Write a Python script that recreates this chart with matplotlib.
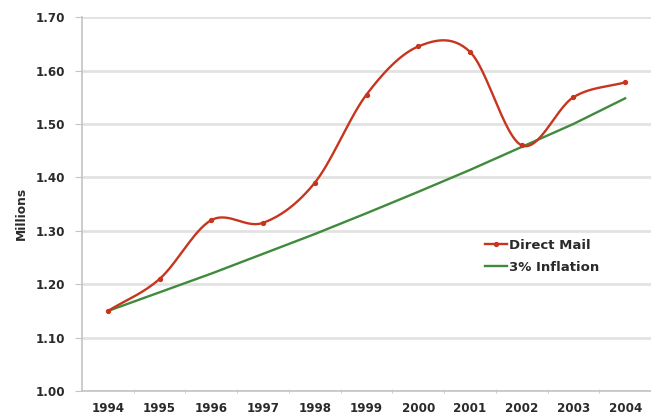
import numpy as np
import matplotlib.pyplot as plt

# data
years = [1994, 1995, 1996, 1997, 1998, 1999, 2000, 2001, 2002, 2003, 2004]
directMail = [1.150, 1.210, 1.320, 1.315, 1.390, 1.555, 1.645, 1.635, 1.460, 1.550, 1.578]
inflation = [1.150, 1.185, 1.220, 1.257, 1.294, 1.333, 1.373, 1.414, 1.457, 1.500, 1.548]
yTicks = [1.00, 1.10, 1.20, 1.30, 1.40, 1.50, 1.60, 1.70]

rdColor = '#c6361f'
grColor = '#3f8a3c'
gridColor = '#e2e2e2'
txtColor = '#2a2a2a'
spColor = '#c4c4c4'
plt.rcParams['font.family'] = ['DejaVu Sans']


def smooth(x, y, n=30):
    # Catmull-Rom style smoothing, similar to spreadsheet "smoothed line"
    x = np.asarray(x, float)
    y = np.asarray(y, float)
    (xs, ys) = ([], [])
    for i in range(len(x) - 1):
        p0 = max(i - 1, 0)
        p3 = min(i + 2, len(x) - 1)
        m1 = (y[i + 1] - y[p0]) / (x[i + 1] - x[p0]) * (x[i + 1] - x[i])
        m2 = (y[p3] - y[i]) / (x[p3] - x[i]) * (x[i + 1] - x[i])
        t = np.linspace(0, 1, n, endpoint=(i == len(x) - 2))
        h00 = 2*t**3 - 3*t**2 + 1
        h10 = t**3 - 2*t**2 + t
        h01 = -2*t**3 + 3*t**2
        h11 = t**3 - t**2
        xs.append(x[i] + t*(x[i + 1] - x[i]))
        ys.append(h00*y[i] + h10*m1 + h01*y[i + 1] + h11*m2)
    return (np.concatenate(xs), np.concatenate(ys))


(fig, ax) = plt.subplots(figsize=(6.51, 4.17), dpi=100)
fig.subplots_adjust(left=0.126, right=1.0, bottom=0.062, top=0.959)

(sx, sy) = smooth(years, directMail)
ax.plot(sx, sy, color=rdColor, lw=1.7, zorder=4)
ax.plot(years, directMail, ls='none', marker='o', ms=2.8, color=rdColor, zorder=5)
ax.plot(years, inflation, color=grColor, lw=1.7, zorder=3)

# legend proxies
(h1,) = ax.plot([], [], color=rdColor, lw=1.7, marker='o', ms=2.8, label='Direct Mail')
(h2,) = ax.plot([], [], color=grColor, lw=1.7, label='3% Inflation')
leg = ax.legend(
    handles=[h1, h2], loc='center left', bbox_to_anchor=(0.688, 0.36),
    frameon=False, handlelength=1.65, handletextpad=0.15,
    labelspacing=0.7, prop={'weight': 'bold', 'size': 9.5}
)
for t in leg.get_texts():
    t.set_color(txtColor)

ax.set_xlim(1993.5, 2004.5)
ax.set_ylim(1.0, 1.70)
ax.set_xticks(years)
ax.set_xticklabels([str(y) for y in years])
ax.set_xticks([y + 0.5 for y in years[:-1]], minor=True)
ax.set_yticks(yTicks)
ax.set_yticklabels(['{:.2f}'.format(v) for v in yTicks])
ax.yaxis.grid(True, color=gridColor, lw=2)
ax.set_axisbelow(True)
for s in ['top', 'right']:
    ax.spines[s].set_visible(False)
for s in ['left', 'bottom']:
    ax.spines[s].set_color(spColor)
    ax.spines[s].set_linewidth(1.2)
ax.tick_params(axis='both', colors=spColor, labelcolor=txtColor, labelsize=8.6)
ax.tick_params(axis='y', length=5, pad=7)
ax.tick_params(axis='x', which='major', length=0, pad=8)
ax.tick_params(axis='x', which='minor', length=3, direction='inout', colors=spColor)
for lbl in ax.get_xticklabels() + ax.get_yticklabels():
    lbl.set_fontweight('bold')
ax.set_ylabel('Millions', fontsize=8.8, fontweight='bold', color=txtColor)
ax.yaxis.set_label_coords(-0.095, 0.476)

fig.savefig('out.png', dpi=100)
plt.close('all')
